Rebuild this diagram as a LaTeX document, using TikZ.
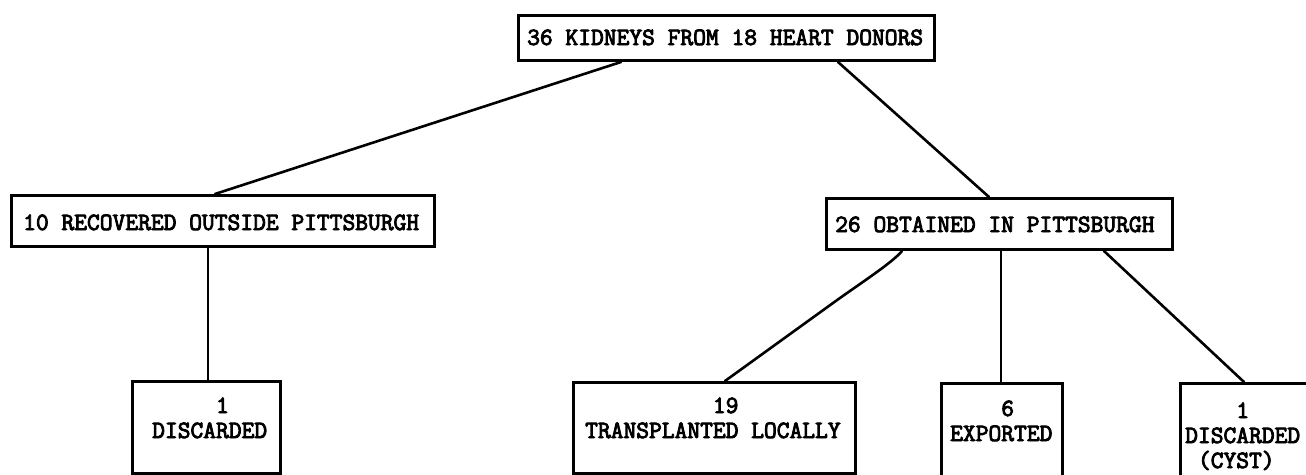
\documentclass[tikz,border=0pt]{standalone}
\usepackage{fontspec}
\newfontfamily\typefont[FakeBold=3.5]{Latin Modern Mono}
\usetikzlibrary{calc}
\newcommand\typed[1]{\begin{tabular}[t]{@{}l@{}}#1\end{tabular}}
\begin{document}
\begin{tikzpicture}[x=1pt,y=-1pt,
  box/.style={draw, line width=3pt, inner sep=0pt, anchor=north west},
  conn/.style={line width=2.6pt, line cap=round, line join=round},
  txt/.style={inner sep=0pt, anchor=base west, font=\typefont\fontsize{24.8}{25}\selectfont}]
\useasboundingbox (0,0) rectangle (1306,474);
\clip (0,0) rectangle (1306,474);
% boxes
\node[box, minimum width=416, minimum height=45] (top) at (517,14) {};
\node[box, minimum width=423, minimum height=51] (left) at (10,194) {};
\node[box, minimum width=346, minimum height=51] (right) at (825,197) {};
\node[box, minimum width=148, minimum height=92] (d1) at (131,380) {};
\node[box, minimum width=282, minimum height=91] (tl) at (572,381) {};
\node[box, minimum width=121, minimum height=93] (ex) at (940,382) {};
\node[box, minimum width=140, minimum height=96] (cy) at (1179,382) {};
% texts
\node[txt] (t0) at (527,45) {\typed{36 KIDNEYS FROM 18 HEART DONORS}};
\node[txt] (t1) at (23,230) {\typed{10 RECOVERED OUTSIDE PITTSBURGH}};
\node[txt] (t2) at (835,232) {\typed{26 OBTAINED IN PITTSBURGH}};
\node[txt] (t3) at (152,413) {\typed{\phantom{DISCA}1\\DISCARDED}};
\node[txt] (t4) at (585,413) {\typed{\phantom{TRANSPLANT}19\\TRANSPLANTED LOCALLY}};
\node[txt] (t5) at (950,416) {\typed{\phantom{EXPO}6\\EXPORTED}};
\node[txt] (t6) at (1185,418) {\typed{\phantom{DISC}1\\DISCARDED\\\phantom{D}(CYST)}};
% connectors
\coordinate (bend) at (833,303);
\draw[conn] ($(top.south west)+(104,0)$) -- ($(left.north west)+(205,0)$);
\draw[conn] ($(top.south west)+(321,0)$) -- ($(right.north west)+(164,0)$);
\draw[conn] ($(left.south west)+(198,0)$) -- ($(d1.north west)+(77,0)$);
\draw[conn] ($(right.south west)+(77,0)$) .. controls (892,263) and (860,283.5) .. (bend) -- ($(tl.north west)+(153,0)$);
\draw[conn] ($(right.south west)+(176,0)$) -- ($(ex.north west)+(61,0)$);
\draw[conn] ($(right.south west)+(279,0)$) -- ($(cy.north west)+(65,0)$);
\end{tikzpicture}
\end{document}
